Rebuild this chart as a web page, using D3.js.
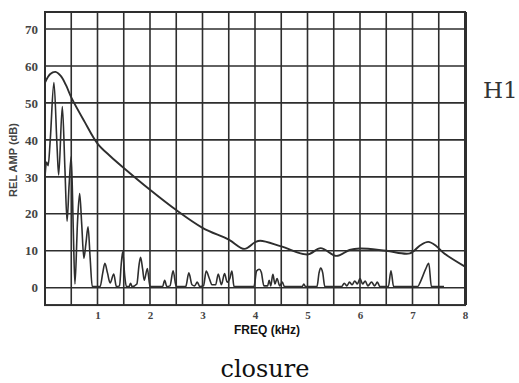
<!DOCTYPE html>
<html>
<head>
<meta charset="utf-8">
<script src="https://cdn.jsdelivr.net/npm/d3@7"></script>
<style>
  body { margin: 0; background: #fff; }
  svg { display: block; }
</style>
</head>
<body>
<div class="chart"></div>
<script>
// envelope (smooth curve), [kHz, dB]
const envelope = [
  [0, 55.5], [0.1, 57.8], [0.2, 58.4], [0.3, 57.3], [0.4, 54.8], [0.5, 51.5],
  [0.75, 45], [1.0, 39], [1.25, 35.5], [1.5, 32.4], [2.0, 26.5],
  [2.5, 21], [3.0, 16.2], [3.5, 13], [3.8, 10.5], [4.0, 12.3], [4.1, 12.7],
  [4.5, 11.2], [5.0, 9], [5.25, 10.7], [5.55, 8.6], [5.8, 10.2], [6.0, 10.6],
  [6.5, 10], [6.95, 9.3], [7.15, 11.5], [7.3, 12.4], [7.45, 11.3], [7.6, 9.3],
  [8.0, 5.7]
]

// harmonic spectrum, [kHz, dB]
const spectrum = [
  [0.0, 30], [0.03, 34], [0.06, 33], [0.1, 40], [0.17, 55.5], [0.23, 38], [0.26, 30.5],
  [0.33, 49], [0.38, 32], [0.42, 18], [0.46, 28], [0.5, 35.5], [0.54, 15], [0.57, 1],
  [0.62, 18], [0.66, 25.5], [0.7, 17], [0.74, 8], [0.78, 12], [0.82, 16.5], [0.86, 8],
  [0.9, 0.3], [1.05, 0.3], [1.1, 4], [1.14, 6.6], [1.19, 4], [1.24, 1.3], [1.31, 3.7],
  [1.36, 0.3], [1.42, 0.5], [1.45, 6], [1.48, 9.7], [1.52, 3], [1.55, 0.3], [1.6, 0.3],
  [1.63, 1.2], [1.66, 0.3], [1.75, 1], [1.79, 6], [1.82, 8.2], [1.86, 5], [1.89, 2],
  [1.95, 5.2], [2.0, 0.3], [2.24, 0.3], [2.28, 2], [2.32, 0.3], [2.38, 0.5], [2.44, 4.6],
  [2.5, 0.3], [2.68, 0.3], [2.74, 4], [2.8, 0.8], [2.85, 0.5], [2.9, 1.5], [2.95, 0.3],
  [3.02, 0.5], [3.07, 4.5], [3.13, 2.5], [3.18, 0.8], [3.25, 0.8], [3.3, 3.7], [3.36, 0.8],
  [3.42, 3.8], [3.47, 1.5], [3.52, 2.5], [3.56, 4.5], [3.6, 0.3], [3.98, 0.3], [4.03, 4.5],
  [4.08, 5], [4.12, 4.2], [4.17, 0.5], [4.24, 0.5], [4.27, 2], [4.3, 0.5], [4.34, 3.6],
  [4.38, 1], [4.42, 2.5], [4.47, 0.5], [4.52, 1.5], [4.56, 0.3], [4.9, 0.3], [4.93, 1],
  [4.96, 0.3], [5.18, 0.3], [5.22, 4], [5.25, 5.3], [5.29, 4], [5.33, 0.3], [5.65, 0.3],
  [5.7, 1.2], [5.75, 0.5], [5.8, 1.5], [5.85, 0.8], [5.9, 1.8], [5.95, 1], [6.0, 2.5],
  [6.05, 1], [6.1, 1.8], [6.15, 0.5], [6.22, 1.5], [6.28, 0.5], [6.33, 1.5], [6.38, 0.3],
  [6.54, 0.3], [6.59, 4.6], [6.64, 0.3], [7.1, 0.3], [7.15, 1.6], [7.25, 5], [7.31, 6.6],
  [7.36, 0.3], [7.6, 0.3]
]

const yTicks = [0, 10, 20, 30, 40, 50, 60, 70]
const xTicks = [1, 2, 3, 4, 5, 6, 7, 8]
const xGrid = d3.range(0.5, 8, 0.5)

const W = 519, H = 383
const ink = "#2e2e2e"

const svg = d3.select(".chart")
  .append("svg")
  .attr("width", W)
  .attr("height", H)
  .attr("viewBox", [0, 0, W, H])

const x = d3.scaleLinear().domain([0, 8]).range([45, 465])
const y = d3.scaleLinear().domain([0, 70]).range([287.7, 29])

const yTop = y(74.6), yBottom = y(-4.7)

// grid
svg.append("g")
  .selectAll("line")
  .data(xGrid)
  .enter()
  .append("line")
  .attr("x1", d => x(d)).attr("x2", d => x(d))
  .attr("y1", yTop).attr("y2", yBottom)
  .style("stroke", ink)
  .style("stroke-width", 1.6)

svg.append("g")
  .selectAll("line")
  .data(yTicks)
  .enter()
  .append("line")
  .attr("x1", x(0)).attr("x2", x(8))
  .attr("y1", d => y(d)).attr("y2", d => y(d))
  .style("stroke", ink)
  .style("stroke-width", 1.6)

svg.append("rect")
  .attr("x", x(0)).attr("y", yTop)
  .attr("width", x(8) - x(0)).attr("height", yBottom - yTop)
  .style("fill", "none")
  .style("stroke", ink)
  .style("stroke-width", 2)

svg.append("line")
  .attr("x1", x(8) + 0.5).attr("x2", x(8) + 0.5)
  .attr("y1", yTop).attr("y2", yBottom)
  .style("stroke", ink)
  .style("stroke-width", 3)

// axes
const yAxis = svg.append("g")
  .attr("transform", `translate(${x(0)},0)`)
  .call(d3.axisLeft(y).tickValues(yTicks).tickSize(0).tickPadding(7))
yAxis.select(".domain").remove()
yAxis.selectAll("text")
  .style("font-family", "Liberation Serif")
  .style("font-weight", "bold")
  .style("font-size", "13px")
  .style("fill", "#444")

const xAxis = svg.append("g")
  .attr("transform", `translate(0,${yBottom})`)
  .call(d3.axisBottom(x).tickValues(xTicks).tickSize(0).tickPadding(6).tickFormat(d3.format("d")))
xAxis.select(".domain").remove()
xAxis.selectAll("text")
  .style("font-family", "Liberation Serif")
  .style("font-weight", "bold")
  .style("font-size", "11px")
  .style("fill", "#444")

// curves
const line = d3.line()
  .x(d => x(d[0]))
  .y(d => y(d[1]))

svg.append("path")
  .datum(spectrum)
  .attr("d", line.curve(d3.curveMonotoneX))
  .style("fill", "none")
  .style("stroke", ink)
  .style("stroke-width", 1.6)

svg.append("path")
  .datum(envelope)
  .attr("d", line.curve(d3.curveCatmullRom))
  .style("fill", "none")
  .style("stroke", ink)
  .style("stroke-width", 1.9)

// labels
svg.append("text")
  .attr("transform", `translate(17,${160}) rotate(-90)`)
  .attr("text-anchor", "middle")
  .style("font-family", "Liberation Sans")
  .style("font-weight", "bold")
  .style("font-size", "11px")
  .style("fill", "#444")
  .text("REL AMP (dB)")

svg.append("text")
  .attr("x", 267).attr("y", 334)
  .attr("text-anchor", "middle")
  .style("font-family", "Liberation Sans")
  .style("font-weight", "bold")
  .style("font-size", "12px")
  .style("fill", "#111")
  .text("FREQ (kHz)")

svg.append("text")
  .attr("x", 483).attr("y", 98)
  .style("font-family", "DejaVu Serif")
  .style("font-size", "23px")
  .style("fill", "#333")
  .text("H1")

svg.append("text")
  .attr("x", 265).attr("y", 377)
  .attr("text-anchor", "middle")
  .style("font-family", "DejaVu Serif")
  .style("font-size", "24px")
  .style("fill", "#111")
  .text("closure")
</script>
</body>
</html>
